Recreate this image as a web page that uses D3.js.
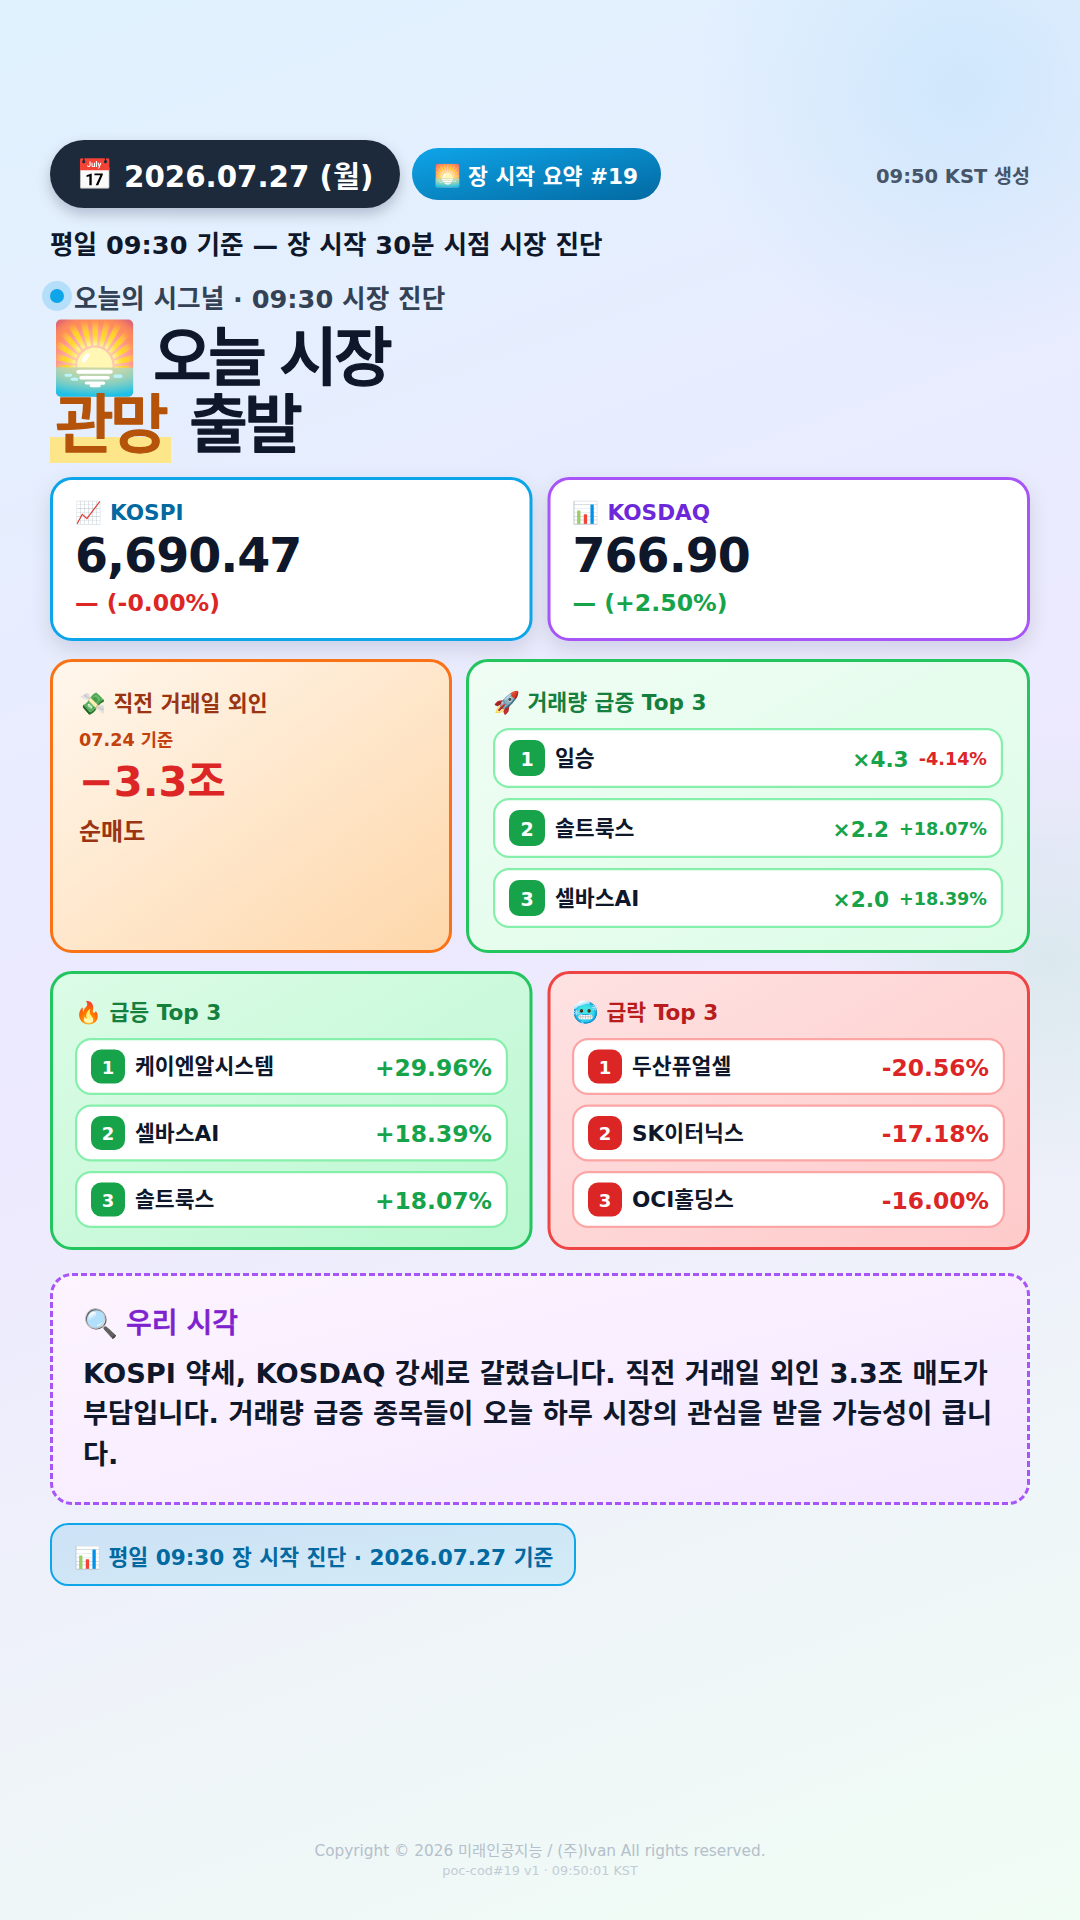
<!DOCTYPE html>
<html lang="ko"><head><meta charset="utf-8">
<script src="https://cdn.jsdelivr.net/npm/d3@7/dist/d3.min.js"></script>
<style>html,body{margin:0;padding:0;background:#fff}svg{display:block}text{font-family:'DejaVu Sans','Noto Sans CJK KR','Noto Color Emoji',sans-serif;white-space:pre}</style>
</head><body><div id="c"></div>
<script>
const indexNames=["KOSPI","KOSDAQ"];
const indexIcons=["📈","📊"];
const indexValues=["6,690.47","766.90"];
const indexChanges=["— (-0.00%)","— (+2.50%)"];
const volumeNames=["일승","솔트룩스","셀바스AI"];
const volumeMultiples=["×4.3","×2.2","×2.0"];
const volumeChanges=["-4.14%","+18.07%","+18.39%"];
const gainerNames=["케이엔알시스템","셀바스AI","솔트룩스"];
const gainerChanges=["+29.96%","+18.39%","+18.07%"];
const loserNames=["두산퓨얼셀","SK이터닉스","OCI홀딩스"];
const loserChanges=["-20.56%","-17.18%","-16.00%"];
const viewLines=[
 [["KOSPI",700],[" 약세, ",600],["KOSDAQ",700],[" 강세로 갈렸습니다. 직전 거래일 외인 ",600],["3.3조",700],[" 매도가",600]],
 [["부담입니다. 거래량 급증 종목들이 오늘 하루 시장의 관심을 받을 가능성이 큽니",600]],
 [["다.",600]]
];

const W=1080,H=1920;
const svg=d3.select("#c").append("svg").attr("width",W).attr("height",H).attr("viewBox",`0 0 ${W} ${H}`);
const defs=svg.append("defs");
function grad(id,stops,x1=0,y1=0,x2=1,y2=1,units="objectBoundingBox"){
 const g=defs.append("linearGradient").attr("id",id).attr("gradientUnits",units).attr("x1",x1).attr("y1",y1).attr("x2",x2).attr("y2",y2);
 stops.forEach(([o,c])=>g.append("stop").attr("offset",o).attr("stop-color",c));
}
grad("bg",[[0,"#e0f2fe"],[.5,"#ede9fe"],[1,"#f0fdf4"]],168,-61,912,1981,"userSpaceOnUse");
grad("pillBlue",[[0,"#0ea5e9"],[1,"#0369a1"]]);
grad("orange",[[0,"#fff7ed"],[1,"#fed7aa"]]);
grad("mint",[[0,"#f0fdf4"],[1,"#dcfce7"]]);
grad("up",[[0,"#dcfce7"],[1,"#bbf7d0"]]);
grad("down",[[0,"#fee2e2"],[1,"#fecaca"]]);
grad("view",[[0,"#fdf4ff"],[1,"#f3e8ff"]]);
grad("foot",[[0,"#cde2f6"],[1,"#d3ebf6"]]);
const rg=defs.append("radialGradient").attr("id","glow");
rg.append("stop").attr("offset",0).attr("stop-color","#0ea5e9").attr("stop-opacity",.1);
rg.append("stop").attr("offset",1).attr("stop-color","#0ea5e9").attr("stop-opacity",0);
const rg2=defs.append("radialGradient").attr("id","glow2");
rg2.append("stop").attr("offset",0).attr("stop-color","#22c55e").attr("stop-opacity",.09);
rg2.append("stop").attr("offset",1).attr("stop-color","#22c55e").attr("stop-opacity",0);
function shadow(id,dy,sd,op,color="#0f172a"){
 const f=defs.append("filter").attr("id",id).attr("x","-20%").attr("y","-30%").attr("width","140%").attr("height","170%");
 f.append("feDropShadow").attr("dx",0).attr("dy",dy).attr("stdDeviation",sd).attr("flood-color",color).attr("flood-opacity",op);
}
shadow("s1",6,7,.22);shadow("s2",8,10,.12);

function box(x,y,w,h,r,fill,stroke,sw,filter){
 const inset=sw/2;
 const b=svg.append("rect").attr("x",x+inset).attr("y",y+inset).attr("width",w-sw).attr("height",h-sw).attr("rx",r-inset).attr("fill",fill);
 if(stroke)b.attr("stroke",stroke).attr("stroke-width",sw);
 if(filter)b.attr("filter",`url(#${filter})`);
 return b;
}
// cy = visual centre of the Latin/Hangul text
function txt(x,cy,s,size,weight,fill,anchor="start",ls=0){
 return svg.append("text").attr("x",x).attr("y",cy+size*.36).attr("font-size",size).attr("font-weight",weight)
  .attr("fill",fill).attr("text-anchor",anchor).attr("letter-spacing",ls).text(s);
}
function heavy(sel,sw){return sel.attr("stroke",sel.attr("fill")).attr("stroke-width",sw).attr("stroke-linejoin","round");}

// background
svg.append("rect").attr("width",W).attr("height",H).attr("fill","url(#bg)");
svg.append("circle").attr("cx",960).attr("cy",90).attr("r",270).attr("fill","url(#glow)");
svg.append("circle").attr("cx",1050).attr("cy",960).attr("r",230).attr("fill","url(#glow2)");

// header
box(50,140,350,68,34,"#1e293b",null,0,"s1");
txt(76,174,"📅",30,700,"#fff");
txt(124,176.5,"2026.07.27 (월)",29.3,700,"#fff");
box(412,148,249,52,26,"url(#pillBlue)",null,0);
txt(434,175,"🌅",21.6,700,"#fff");
txt(468,176,"장 시작 요약 #19",21.6,700,"#fff");
txt(1030,176,"09:50 KST 생성",19.5,700,"#475569","end");
txt(50,245,"평일 09:30 기준 — 장 시작 30분 시점 시장 진단",25.6,700,"#0f172a");

// signal
svg.append("circle").attr("cx",57).attr("cy",296).attr("r",15).attr("fill","#0ea5e9").attr("opacity",.22);
svg.append("circle").attr("cx",57).attr("cy",296).attr("r",7).attr("fill","#0ea5e9");
txt(74,298.5,"오늘의 시그널 · 09:30 시장 진단",25.6,600,"#334155");

// headline
txt(51,357,"🌅",70,500,"#0f172a");
heavy(txt(153,357,"오늘 시장",64,500,"#0f172a","start",-4),1.3);
svg.append("rect").attr("x",50).attr("y",437).attr("width",121).attr("height",26).attr("fill","#fde68a");
heavy(txt(55,424,"관망",64,500,"#b45309","start",-4),1.3);
heavy(txt(189,424,"출발",64,500,"#0f172a","start",-4),1.3);

// index cards
const idxX=d3.scaleBand().domain(d3.range(indexNames.length)).range([50,1030]).paddingInner(15/497.5);
const idxBorder=["#0ea5e9","#a855f7"],idxLabel=["#0369a1","#6d28d9"],idxChange=["#dc2626","#16a34a"];
indexNames.forEach((n,i)=>{
 const x=idxX(i),w=idxX.bandwidth();
 box(x,477,w,164,22,"#fff",idxBorder[i],3,"s2");
 txt(x+25,512,indexIcons[i],21.6,700,idxLabel[i]);
 txt(x+60,512,n,21.6,700,idxLabel[i]);
 txt(x+25,555,indexValues[i],47.5,700,"#0f172a","start",-1);
 txt(x+25,603,indexChanges[i],23.6,700,idxChange[i]);
});

// foreign card
box(50,659,402,294,22,"url(#orange)","#f97316",3);
txt(79,703,"💸 직전 거래일 외인",21.6,700,"#9a3412");
txt(79,740,"07.24 기준",17.6,700,"#c2410c");
txt(79,781,"−3.3조",41.6,700,"#dc2626");
txt(79,831,"순매도",24,700,"#9a3412");

// rank rows
function rows(cfg){
 const y=d3.scaleBand().domain(d3.range(cfg.names.length)).range([cfg.y0,cfg.y1]).paddingInner(cfg.pad);
 cfg.names.forEach((n,i)=>{
  const ry=y(i),h=y.bandwidth(),cy=ry+h/2;
  box(cfg.x,ry,cfg.w,h,16,"#fff",cfg.rowBorder,2.2);
  const bh=h-(cfg.bInset*2);
  box(cfg.x+16,ry+cfg.bInset,cfg.bw,bh,10,cfg.badge,null,0);
  txt(cfg.x+16+cfg.bw/2,cy+1,String(i+1),cfg.bFont,700,"#fff","middle");
  txt(cfg.nameX,cy,n,21.6,700,"#0f172a");
  cfg.right(i,cy);
 });
}

// volume card
box(466,659,564,294,22,"url(#mint)","#22c55e",3);
txt(493,702,"🚀 거래량 급증 Top 3",21.6,700,"#15803d");
rows({names:volumeNames,y0:728,y1:928,pad:10/70,x:493,w:510,bInset:12,bw:36,bFont:19,nameX:555,badge:"#16a34a",rowBorder:"#86efac",
 right:(i,cy)=>{
  const p=txt(987,cy+1,volumeChanges[i],17.6,700,volumeChanges[i][0]==="-"?"#dc2626":"#16a34a","end");
  const pw=p.node().getComputedTextLength();
  txt(987-pw-10,cy+1,volumeMultiples[i],21.6,700,"#16a34a","end");
 }});

// movers
box(50,971,482.5,279,22,"url(#up)","#22c55e",3);
txt(75,1012,"🔥 급등 Top 3",21.6,700,"#15803d");
rows({names:gainerNames,y0:1038,y1:1228,pad:9.5/66.5,x:75,w:433,bInset:11.5,bw:34,bFont:18,nameX:135,badge:"#16a34a",rowBorder:"#86efac",
 right:(i,cy)=>txt(492,cy+1,gainerChanges[i],23.4,700,"#16a34a","end")});
box(547.5,971,482.5,279,22,"url(#down)","#ef4444",3);
txt(572,1012,"🥶 급락 Top 3",21.6,700,"#b91c1c");
rows({names:loserNames,y0:1038,y1:1228,pad:9.5/66.5,x:572,w:433,bInset:11.5,bw:34,bFont:18,nameX:632,badge:"#dc2626",rowBorder:"#fca5a5",
 right:(i,cy)=>txt(989,cy+1,loserChanges[i],23.4,700,"#dc2626","end")});

// view
box(50,1273,980,232,22,"url(#view)","#a855f7",3).attr("stroke-dasharray","6 3");
txt(83,1323,"🔍",28,500,"#7e22ce");
heavy(txt(126,1323,"우리 시각",28,500,"#7e22ce"),.6);
const lineY=d3.scaleLinear().domain([0,2]).range([1373,1454]);
viewLines.forEach((segs,i)=>{
 const t=svg.append("text").attr("x",83).attr("y",lineY(i)+27.3*.36).attr("font-size",27.3).attr("fill","#0f172a");
 segs.forEach(([s,w])=>t.append("tspan").attr("font-weight",w).text(s));
});

// footer pill
box(50,1523,526,63,18,"url(#foot)","#0ea5e9",2);
txt(74,1557,"📊 평일 09:30 장 시작 진단 · 2026.07.27 기준",21.6,700,"#0369a1");

txt(540,1850,"Copyright © 2026 미래인공지능 / (주)Ivan All rights reserved.",15.3,400,"#b4c0cc","middle");
txt(540,1870,"poc-cod#19 v1 · 09:50:01 KST",12.8,400,"#c2ccd5","middle");
</script></body></html>
